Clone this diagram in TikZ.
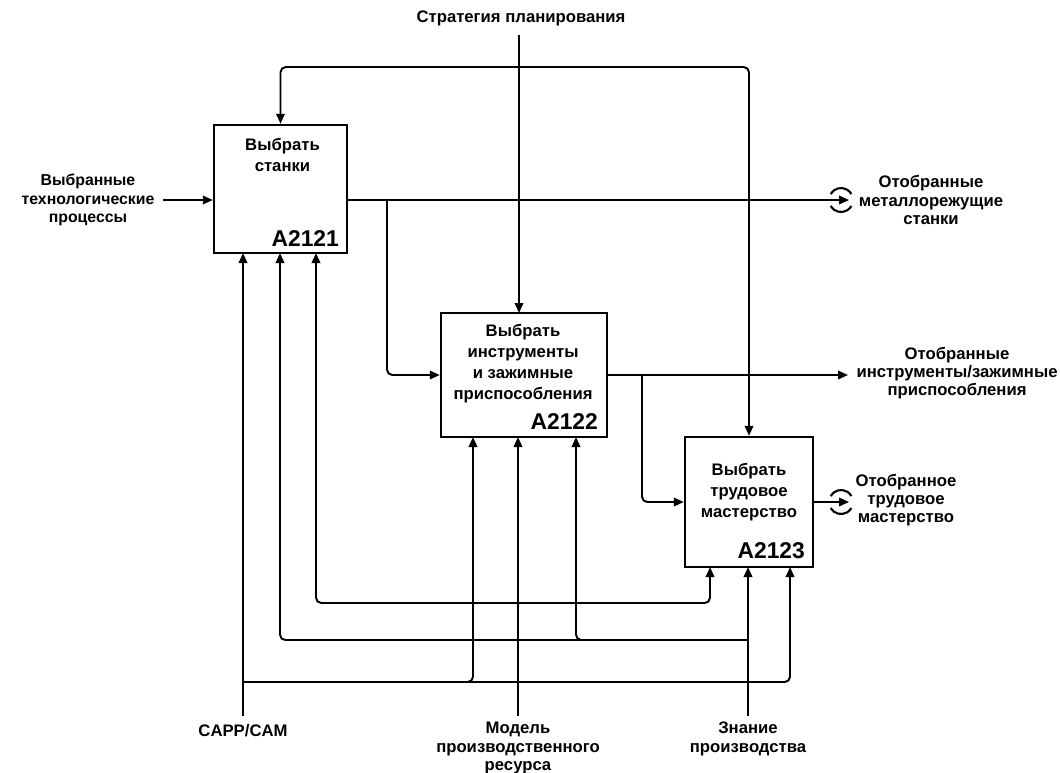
\documentclass[tikz,border=0pt]{standalone}
\usepackage{fontspec}
\setmainfont{Liberation Sans}
\usetikzlibrary{arrows.meta,calc}

\tikzset{
	actbox/.style={draw, line width=1.4pt, inner sep=0pt},
	lbl/.style={align=center, font=\bfseries\fontsize{9.5}{10.4}\selectfont, inner sep=1pt},
	boxtxt/.style={align=center, font=\bfseries\fontsize{9.5}{12}\selectfont, anchor=north, inner sep=0pt},
	code/.style={font=\bfseries\fontsize{13}{13}\selectfont, anchor=south east, inner sep=0pt},
	wire/.style={line width=1.1pt, rounded corners=3pt},
	arr/.style={wire, -{Triangle[length=2mm,width=1.7mm]}},
	tunnel/.pic={
		\draw[line width=1.2pt] (150:12) arc (150:30:12);
		\draw[line width=1.2pt] (210:12) arc (210:330:12);
	}
}

\begin{document}
\begin{tikzpicture}[x=0.02cm,y=-0.02cm]
	\useasboundingbox (0,0) rectangle (1060,772);
	
	% ======================================================
	% Activity boxes
	% ======================================================
	\node[actbox, minimum width=2.66cm, minimum height=2.56cm] (b1) at (280.5,189) {};
	\node[actbox, minimum width=3.32cm, minimum height=2.48cm] (b2) at (524,375) {};
	\node[actbox, minimum width=2.56cm, minimum height=2.60cm] (b3) at (749,502) {};
	
	\node[boxtxt] (t1) at ($(b1.north)+(2,14)$) {Выбрать\\станки};
	\node[boxtxt] (t2) at ($(b2.north)+(-1,12)$) {Выбрать\\инструменты\\и зажимные\\приспособления};
	\node[boxtxt] (t3) at ($(b3.north)+(0,27)$) {Выбрать\\трудовое\\мастерство};
	
	\node[code] (c1) at ($(b1.south east)+(-9,-7)$) {A2121};
	\node[code] (c2) at ($(b2.south east)+(-10,-8)$) {A2122};
	\node[code] (c3) at ($(b3.south east)+(-9,-9)$) {A2123};
	
	% ======================================================
	% Outer labels
	% ======================================================
	\node[lbl] (strat) at (521,18) {Стратегия планирования};
	\node[lbl, font=\bfseries\fontsize{9}{10.4}\selectfont] (inp) at (88,200) {Выбранные\\технологические\\процессы};
	\node[lbl] (out1) at (931,200) {Отобранные\\металлорежущие\\станки};
	\node[lbl] (out2) at (957,373) {Отобранные\\инструменты/зажимные\\приспособления};
	\node[lbl] (out3) at (906,500) {Отобранное\\трудовое\\мастерство};
	\node[lbl] (capp) at (243,731) {CAPP/CAM};
	\node[lbl] (model) at (518,748) {Модель\\производственного\\ресурса};
	\node[lbl] (know) at (748,739) {Знание\\производства};
	
	% Junctions and free ends
	\coordinate (jc) at (519,67);
	\coordinate (j1) at (387,200);
	\coordinate (j2) at (642,375);
	\coordinate (jm1) at (243,682);
	\coordinate (jm2) at (518,603);
	\coordinate (jm3) at (748,640);
	\coordinate (e0) at (163,200);
	\coordinate (e1) at (849,200);
	\coordinate (e2) at (848,375);
	\coordinate (e3) at (849,502);
	
	% ======================================================
	% Controls
	% ======================================================
	\draw[arr] (519,35) -- (519,313);
	\draw[arr] (jc) -| (b1.north);
	\draw[arr] (jc) -| (b3.north);
	
	% ======================================================
	% Inputs and outputs
	% ======================================================
	\draw[arr] (e0) -- (b1.west |- j1);
	\draw[arr] (b1.east |- j1) -- (e1);
	\draw[arr] (j1) |- (b2.west);
	\draw[arr] (b2.east) -- (e2);
	\draw[arr] (j2) |- (b3.west);
	\draw[arr] (b3.east) -- (e3);
	\pic at ($(e1)+(-8,0)$) {tunnel};
	\pic at ($(e3)+(-8,0)$) {tunnel};
	
	% ======================================================
	% Mechanisms
	% ======================================================
	\draw[arr] (243,716) -- (243,253);
	\draw[arr] (jm1) -| (473,437);
	\draw[arr] (jm1) -| (790,567);
	
	\draw[arr] (518,716) -- (518,437);
	\draw[arr] (jm2) -| (316,253);
	\draw[arr] (jm2) -| (710,567);
	
	\draw[arr] (748,716) -- (748,567);
	\draw[arr] (jm3) -| (280,253);
	\draw[arr] (jm3) -| (576,437);
	
\end{tikzpicture}
\end{document}
